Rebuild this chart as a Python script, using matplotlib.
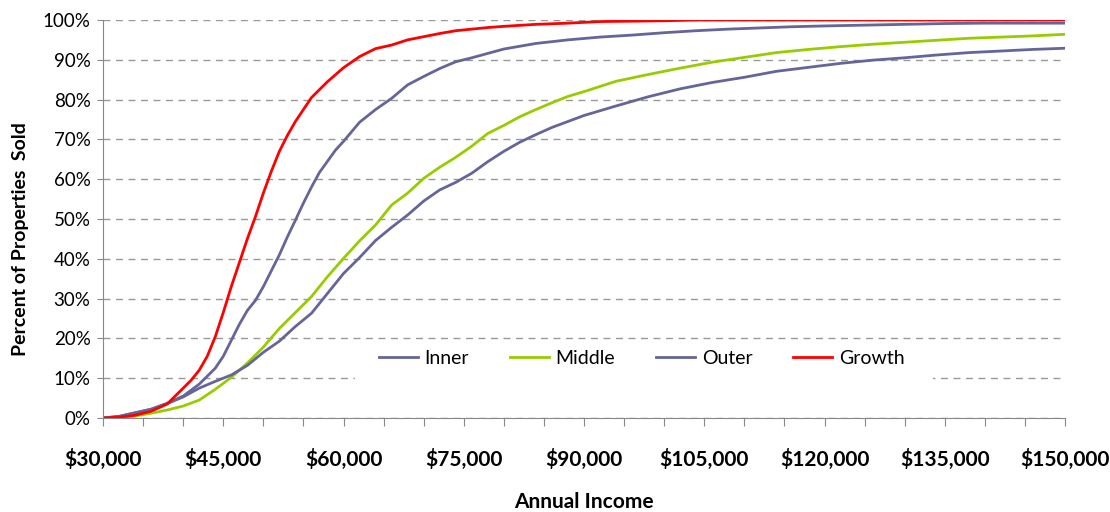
import numpy as np
import matplotlib
matplotlib.use('Agg')
import matplotlib.pyplot as plt
from matplotlib.patches import Rectangle
from matplotlib.ticker import FuncFormatter, MultipleLocator

# annual income in $1000s, percent of properties sold
inner_x = [30, 32, 34, 36, 38, 40, 42, 43, 44, 45, 46, 47, 48, 49, 50, 51, 52, 53, 54, 55,
           56, 57, 58, 59, 60, 62, 64, 66, 68, 70, 72, 74, 76, 78, 80, 84, 88, 92, 96, 100,
           104, 108, 112, 116, 120, 125, 130, 135, 140, 150]
inner_y = [0, 0.4, 1.3, 2.2, 3.7, 5.5, 8.5, 10.5, 12.5, 15.5, 19.5, 23.5, 27, 29.5, 33, 37, 41, 45.5, 49.7, 54,
           58, 61.7, 64.5, 67.3, 69.5, 74.3, 77.5, 80.3, 83.7, 85.8, 87.8, 89.5, 90.5, 91.6, 92.7, 94.1, 95, 95.7, 96.2, 96.8,
           97.3, 97.7, 98, 98.3, 98.5, 98.7, 98.9, 99.1, 99.2, 99.2]

middle_x = [30, 32, 34, 36, 38, 40, 42, 44, 46, 48, 50, 52, 54, 56, 58, 60, 62, 64, 66, 68,
            70, 72, 74, 76, 78, 80, 82, 84, 86, 88, 90, 94, 98, 102, 106, 110, 114, 118, 122, 126,
            130, 134, 138, 142, 146, 150]
middle_y = [0, 0.1, 0.5, 1.2, 2.0, 3.0, 4.5, 7.2, 10.2, 13.8, 17.8, 22.5, 26.5, 30.5, 35.5, 40.1, 44.5, 48.5, 53.5, 56.5,
            60.2, 63, 65.5, 68.3, 71.5, 73.5, 75.7, 77.5, 79.2, 80.8, 82, 84.6, 86.3, 87.9, 89.4, 90.6, 91.8, 92.6, 93.3, 93.9,
            94.4, 94.9, 95.4, 95.7, 96, 96.4]

outer_x = [30, 32, 34, 36, 38, 40, 42, 44, 46, 48, 50, 52, 54, 56, 58, 60, 62, 64, 66, 68,
           70, 72, 74, 76, 78, 80, 82, 84, 86, 88, 90, 94, 98, 102, 106, 110, 114, 118, 122, 126,
           130, 134, 138, 142, 146, 150]
outer_y = [0, 0.4, 1.3, 2.2, 3.6, 5.3, 7.5, 9.2, 10.8, 13.2, 16.5, 19.3, 23, 26.3, 31.3, 36.3, 40.3, 44.6, 47.9, 51,
           54.5, 57.3, 59.2, 61.5, 64.4, 67, 69.3, 71.2, 73, 74.5, 76, 78.4, 80.7, 82.7, 84.3, 85.6, 87.1, 88.1, 89.1, 89.9,
           90.5, 91.2, 91.8, 92.2, 92.6, 92.9]

growth_x = [30, 32, 34, 36, 38, 40, 41, 42, 43, 44, 45, 46, 47, 48, 49, 50, 51, 52, 53, 54,
            55, 56, 57, 58, 60, 62, 64, 66, 68, 70, 72, 74, 76, 78, 80, 84, 88, 92, 96, 100,
            104, 150]
growth_y = [0, 0.2, 0.7, 1.7, 3.5, 7.5, 9.5, 12, 15.5, 20.4, 26.5, 33, 39, 45, 50.5, 56.5, 62, 67, 71, 74.5,
            77.5, 80.5, 82.5, 84.5, 88, 90.8, 92.8, 93.7, 95, 95.8, 96.6, 97.3, 97.7, 98.1, 98.4, 98.9, 99.2, 99.6, 99.7, 99.8,
            100, 100]

purple = '#65659a'
green = '#99cc00'
red = '#ff0000'

font = ['Lato', 'DejaVu Sans']

fig = plt.figure(figsize=(11.1, 5.12), dpi=100)
ax = fig.add_axes([0.0928, 0.1836, 0.8667, 0.7774])

ax.plot(np.array(inner_x) * 1000, inner_y, color=purple, lw=2.0, label='Inner')
ax.plot(np.array(middle_x) * 1000, middle_y, color=green, lw=2.0, label='Middle')
ax.plot(np.array(outer_x) * 1000, outer_y, color=purple, lw=2.0, label='Outer')
ax.plot(np.array(growth_x) * 1000, growth_y, color=red, lw=2.0, label='Growth')

ax.set_xlim(30000, 150000)
ax.set_ylim(0, 100)

ax.yaxis.set_major_locator(MultipleLocator(10))
ax.yaxis.set_major_formatter(FuncFormatter(lambda v, p: '%d%%' % v))
ax.xaxis.set_major_locator(MultipleLocator(5000))


def xfmt(v, p):
    if int(round(v)) % 15000 == 0:
        return '${:,.0f}'.format(v)
    return ''


ax.xaxis.set_major_formatter(FuncFormatter(xfmt))

ax.grid(axis='y', color='#999999', linestyle=(0, (5, 4)), linewidth=1.0)
ax.set_axisbelow(True)

for s in ['top', 'right']:
    ax.spines[s].set_visible(False)
for s in ['left', 'bottom']:
    ax.spines[s].set_color('#888888')

ax.tick_params(axis='x', direction='out', length=6, color='#888888', pad=16)
ax.tick_params(axis='y', direction='out', length=4, color='#888888', pad=5)

for lab in ax.get_xticklabels():
    lab.set_family(font)
    lab.set_fontweight('bold')
    lab.set_fontsize(15)
for lab in ax.get_yticklabels():
    lab.set_family(font)
    lab.set_fontsize(13.5)

ax.set_xlabel('Annual Income', fontsize=15, fontweight='bold', family=font, labelpad=16)
ax.set_ylabel('Percent of Properties  Sold', fontsize=14, fontweight='bold', family=font)
ax.yaxis.set_label_coords(-0.077, 0.45)

# white box behind the legend hides the gridline there
ax.add_patch(Rectangle((0.262, 0.058), 0.601, 0.133, transform=ax.transAxes,
                       facecolor='white', edgecolor='none', zorder=1))

leg = ax.legend(loc='center', bbox_to_anchor=(0.56, 0.15), ncol=4, frameon=False,
                prop={'family': font, 'size': 14}, handlelength=2.0,
                columnspacing=2.1, handletextpad=0.35)

fig.savefig('out.png', dpi=100)
